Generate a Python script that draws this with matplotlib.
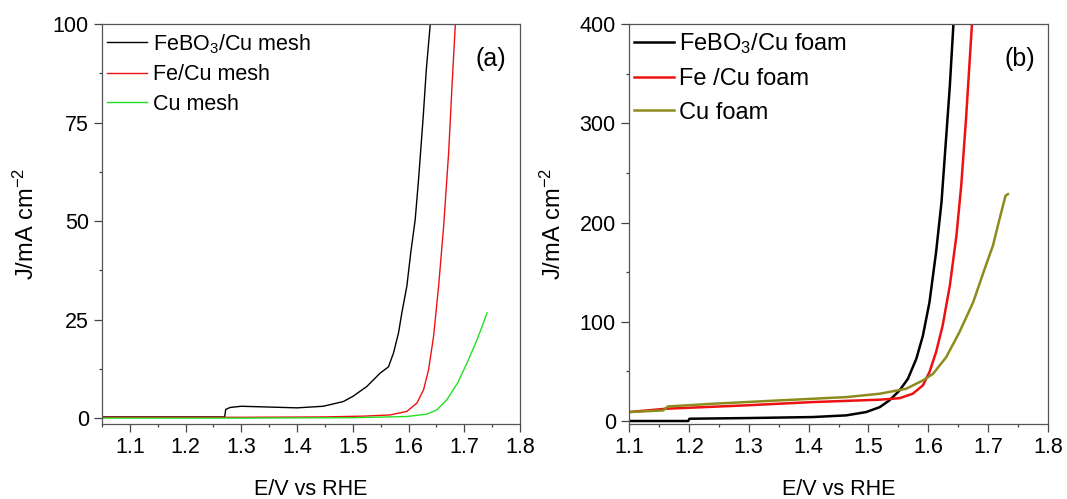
import matplotlib
matplotlib.use("Agg")
import matplotlib.pyplot as plt
from matplotlib.ticker import MultipleLocator

plt.rcParams["font.family"] = ["Liberation Sans", "DejaVu Sans"]
plt.rcParams["mathtext.fontset"] = "custom"
plt.rcParams["mathtext.rm"] = "Liberation Sans"
plt.rcParams["mathtext.it"] = "Liberation Sans:italic"

# ── (a) Cu mesh series ───────────────────────────────────────────────────────
E_feb_mesh = [1.05, 1.20, 1.27, 1.272, 1.28, 1.30, 1.35, 1.40, 1.447, 1.483, 1.50,
              1.525, 1.549, 1.564, 1.573, 1.582, 1.588, 1.597, 1.604, 1.612, 1.618,
              1.626, 1.632, 1.639, 1.642]
J_feb_mesh = [0.3, 0.3, 0.3, 2.2, 2.7, 3.0, 2.8, 2.6, 3.0, 4.2, 5.5,
              8.0, 11.4, 13.0, 16.5, 21.6, 26.7, 33.5, 42.0, 50.4, 60.6,
              75.8, 88.6, 100.0, 104.0]
E_fe_mesh = [1.05, 1.30, 1.45, 1.52, 1.567, 1.597, 1.615, 1.627, 1.636, 1.645,
             1.654, 1.663, 1.672, 1.678, 1.684, 1.686]
J_fe_mesh = [0.2, 0.2, 0.3, 0.5, 0.8, 1.7, 3.8, 7.2, 12.3, 20.8,
             33.5, 48.7, 67.4, 84.3, 100.0, 104.0]
E_cu_mesh = [1.05, 1.30, 1.50, 1.597, 1.633, 1.651, 1.669, 1.688, 1.705, 1.723, 1.741]
J_cu_mesh = [0.0, 0.0, 0.1, 0.4, 1.0, 2.1, 4.7, 8.9, 14.0, 19.9, 26.7]

# ── (b) Cu foam series ───────────────────────────────────────────────────────
E_feb_foam = [1.10, 1.199, 1.201, 1.30, 1.407, 1.463, 1.496, 1.519, 1.535, 1.552,
              1.566, 1.580, 1.591, 1.602, 1.613, 1.622, 1.630, 1.636, 1.642, 1.644]
J_feb_foam = [0.0, 0.0, 2.3, 3.0, 4.0, 5.7, 9.0, 14.0, 20.8, 30.8,
              42.6, 62.7, 86.0, 119.7, 170.0, 220.0, 287.0, 337.6, 400.0, 410.0]
E_fe_foam = [1.10, 1.162, 1.296, 1.407, 1.519, 1.552, 1.574, 1.591, 1.602, 1.613,
             1.624, 1.636, 1.647, 1.655, 1.663, 1.673, 1.675]
J_fe_foam = [9.0, 12.4, 15.8, 19.1, 21.5, 23.0, 27.5, 35.9, 49.3, 69.4,
             96.2, 136.4, 186.7, 237.0, 304.0, 400.0, 410.0]
E_cu_foam = [1.10, 1.157, 1.165, 1.240, 1.352, 1.463, 1.519, 1.563, 1.591, 1.608,
             1.630, 1.652, 1.675, 1.694, 1.708, 1.719, 1.729, 1.733]
J_cu_foam = [9.0, 10.7, 14.7, 17.4, 20.8, 24.1, 27.5, 32.5, 40.9, 47.6,
             64.4, 89.5, 119.7, 153.0, 176.7, 203.5, 227.0, 228.6]

fig = plt.figure(figsize=(10.67, 4.99), dpi=100)
ax_a = fig.add_axes([102 / 1067, 75 / 499, 418 / 1067, 400 / 499])
ax_b = fig.add_axes([629 / 1067, 75 / 499, 419 / 1067, 400 / 499])


def style_axes(ax, xlim, ylim, ymaj, ymin):
    ax.set_xlim(*xlim)
    ax.set_ylim(*ylim)
    ax.xaxis.set_major_locator(MultipleLocator(0.1))
    ax.xaxis.set_minor_locator(MultipleLocator(0.05))
    ax.yaxis.set_major_locator(MultipleLocator(ymaj))
    ax.yaxis.set_minor_locator(MultipleLocator(ymin))
    ax.tick_params(which="major", direction="out", length=5.5, width=0.9,
                   color="#444", labelsize=15.5, pad=4)
    ax.tick_params(which="minor", direction="out", length=2.5, width=0.9, color="#444")
    for sp in ax.spines.values():
        sp.set_color("#555")
        sp.set_linewidth(0.9)
    ax.set_xlabel("E/V vs RHE", fontsize=15.5, labelpad=15)
    ax.set_ylabel(r"J/mA cm$^{\mathregular{-2}}$", fontsize=17, labelpad=10)


# Panel (a)
style_axes(ax_a, (1.05, 1.8), (-1.5, 100), 25, 12.5)
ax_a.plot(E_feb_mesh, J_feb_mesh, color="black", lw=1.0, label=r"FeBO$_3$/Cu mesh")
ax_a.plot(E_fe_mesh, J_fe_mesh, color="#ee1111", lw=1.0, label="Fe/Cu mesh")
ax_a.plot(E_cu_mesh, J_cu_mesh, color="#22e022", lw=1.0, label="Cu mesh")
ax_a.legend(loc="upper left", bbox_to_anchor=(0.012, 0.98), frameon=False,
            fontsize=15.5, handlelength=1.85, handletextpad=0.3, labelspacing=0.4,
            borderpad=0, borderaxespad=0)
ax_a.text(0.931, 0.912, "(a)", transform=ax_a.transAxes, fontsize=18,
          ha="center", va="center")

# Panel (b)
style_axes(ax_b, (1.1, 1.8), (-3, 400), 100, 50)
ax_b.plot(E_feb_foam, J_feb_foam, color="black", lw=1.8, label=r"FeBO$_3$/Cu foam")
ax_b.plot(E_fe_foam, J_fe_foam, color="#ee1111", lw=1.8, label="Fe /Cu foam")
ax_b.plot(E_cu_foam, J_cu_foam, color="#8c8c1e", lw=1.8, label="Cu foam")
ax_b.legend(loc="upper left", bbox_to_anchor=(0.012, 0.982), frameon=False,
            fontsize=17, handlelength=1.7, handletextpad=0.2, labelspacing=0.5,
            borderpad=0, borderaxespad=0)
ax_b.text(0.933, 0.912, "(b)", transform=ax_b.transAxes, fontsize=18,
          ha="center", va="center")

fig.savefig("out.png", dpi=100)
